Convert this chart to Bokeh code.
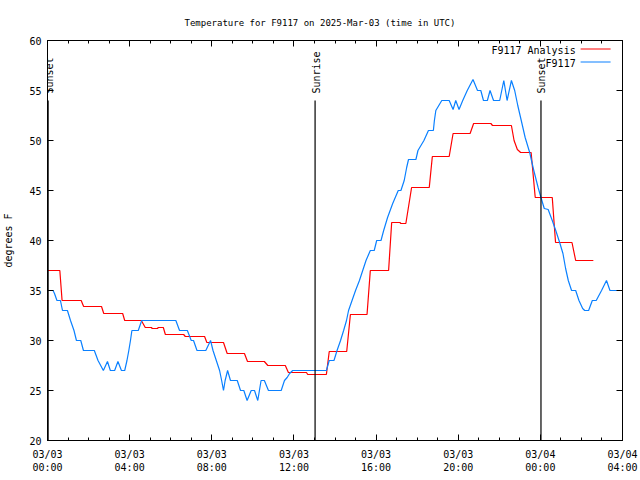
import math
from bokeh.plotting import figure
from bokeh.models import FixedTicker, LinearAxis, Range1d, Label, LabelSet, ColumnDataSource
from bokeh.core.properties import value
from bokeh.embed import file_html
from bokeh.resources import INLINE

TITLE = "Temperature for F9117 on 2025-Mar-03 (time in UTC)"
FONT = "DejaVu Sans Mono"

# x tick positions (hours since 2025-03-03 00:00 UTC) and labels
tick_hours = [0, 4, 8, 12, 16, 20, 24, 28]
tick_labels = ["03/03\n00:00", "03/03\n04:00", "03/03\n08:00", "03/03\n12:00",
               "03/03\n16:00", "03/03\n20:00", "03/04\n00:00", "03/04\n04:00"]
y_ticks = [20, 25, 30, 35, 40, 45, 50, 55, 60]

# F9117 Analysis (red)
red_hours = [0.0, 0.60, 0.71, 1.64, 1.76, 2.63, 2.74, 3.66, 3.76, 4.57, 4.76, 5.06, 5.10, 5.35,
             5.40, 5.64, 5.74, 6.63, 6.71, 7.65, 7.76, 8.57, 8.75, 9.59, 9.74, 10.56, 10.73,
             11.58, 11.73, 12.61, 12.67, 13.58, 13.72, 14.57, 14.75, 15.56, 15.72, 16.61,
             16.76, 17.16, 17.21, 17.45, 17.73, 18.59, 18.74, 19.56, 19.75, 20.58, 20.75,
             21.59, 21.67, 22.59, 22.72, 22.88, 23.04, 23.55, 23.75, 24.58, 24.66, 24.74,
             25.54, 25.72, 26.58]
red_temps = [37.0, 37.0, 34.0, 34.0, 33.4, 33.4, 32.7, 32.7, 32.0, 32.0, 31.3, 31.3, 31.2, 31.2,
             31.3, 31.3, 30.6, 30.6, 30.4, 30.4, 29.8, 29.8, 28.7, 28.7, 27.9, 27.9, 27.5,
             27.5, 26.8, 26.8, 26.6, 26.6, 28.9, 28.9, 32.6, 32.6, 37.0, 37.0,
             41.8, 41.8, 41.7, 41.7, 45.3, 45.3, 48.4, 48.4, 50.7, 50.7, 51.7,
             51.7, 51.5, 51.5, 50.0, 49.1, 48.8, 48.8, 44.3, 44.3, 42.0, 39.8,
             39.8, 38.0, 38.0]

# F9117 observations (blue)
blue_hours = [0.0, 0.27, 0.34, 0.46, 0.63, 0.73, 0.97, 1.12, 1.29, 1.41, 1.62, 1.75, 2.28, 2.46,
              2.72, 2.92, 3.06, 3.27, 3.43, 3.60, 3.76, 3.87, 3.96, 4.04, 4.11, 4.42, 4.52,
              4.59, 6.25, 6.43, 6.81, 7.00, 7.11, 7.28, 7.71, 7.94, 8.06, 8.22, 8.38, 8.48,
              8.57, 8.65, 8.77, 8.91, 9.24, 9.40, 9.56, 9.72, 9.92, 10.08, 10.24, 10.40,
              10.56, 10.76, 11.38, 11.54, 11.67, 11.79, 11.94, 13.58, 13.72, 13.95, 14.10,
              14.27, 14.42, 14.56, 14.66, 14.83, 15.00, 15.19, 15.35, 15.51, 15.72, 15.91,
              16.03, 16.24, 16.37, 16.56, 16.81, 17.08, 17.21, 17.37, 17.49, 17.58, 17.94,
              18.04, 18.33, 18.55, 18.79, 18.84, 18.91, 19.20, 19.56, 19.75, 19.88, 20.04,
              20.22, 20.44, 20.72, 20.94, 21.10, 21.23, 21.42, 21.55, 21.72, 22.02, 22.22,
              22.38, 22.59, 22.75, 22.90, 23.07, 23.26, 23.48, 23.68, 23.89, 24.03, 24.19,
              24.38, 24.58, 24.75, 24.94, 25.10, 25.23, 25.36, 25.52, 25.72, 25.88, 26.06,
              26.16, 26.35, 26.53, 26.72, 26.98, 27.22, 27.39, 28.0]
blue_temps = [35.0, 35.0, 34.7, 34.0, 34.0, 33.0, 33.0, 32.0, 31.0, 30.0, 30.0, 29.0, 29.0, 28.0,
              27.0, 27.9, 27.0, 27.0, 27.9, 27.0, 27.0, 28.0, 29.0, 30.0, 31.0, 31.0, 31.6,
              32.0, 32.0, 31.0, 31.0, 30.0, 30.0, 29.0, 29.0, 30.0, 29.0, 28.0, 27.0, 26.0,
              25.0, 26.0, 27.0, 26.0, 26.0, 25.0, 25.0, 24.0, 25.0, 25.0, 24.0, 26.0,
              26.0, 25.0, 25.0, 26.0, 26.3, 26.7, 27.0, 27.0, 28.0, 28.0, 29.0,
              30.0, 31.0, 32.0, 33.0, 34.0, 35.0, 36.0, 37.0, 38.0, 39.0, 39.0,
              40.0, 40.0, 41.0, 42.3, 43.7, 45.0, 45.0, 46.0, 47.3, 48.1, 48.1,
              49.0, 50.0, 51.0, 51.0, 52.0, 53.0, 54.0, 54.0, 53.1, 54.0, 53.1,
              54.0, 55.0, 56.1, 55.0, 55.0, 54.0, 54.0, 55.0, 54.0, 54.0, 56.0,
              54.0, 56.0, 55.0, 53.5, 52.0, 50.3, 48.8, 47.0, 45.3, 44.3, 43.2,
              43.1, 42.0, 41.0, 39.8, 38.7, 37.2, 36.0, 35.0, 35.0, 34.0, 33.2,
              33.0, 33.0, 34.0, 34.0, 35.0, 36.0, 35.0, 35.0]

# Sun events (hours)
event_hours = [0.03, 13.03, 24.03]
event_names = ["Sunset", "Sunrise", "Sunset"]

X_MIN, X_MAX = 0, 28
Y_MIN, Y_MAX = 20, 60
EVENT_TOP = 54.0

RED = "#ff0000"
BLUE = "#0a80ff"

p = figure(width=640, height=480, x_range=Range1d(X_MIN, X_MAX), y_range=Range1d(Y_MIN, Y_MAX),
           output_backend="svg", toolbar_location=None, title=TITLE,
           min_border_left=46, min_border_right=18, min_border_top=40, min_border_bottom=40)
p.xgrid.visible = False
p.ygrid.visible = False
p.outline_line_color = "black"
p.outline_line_alpha = 1.0
p.outline_line_width = 1
p.background_fill_color = "white"
p.border_fill_color = "white"

p.title.text_font = FONT
p.title.text_font_size = "9px"
p.title.text_font_style = "normal"
p.title.align = "left"
p.title.offset = 137
p.title.standoff = 26
p.title.text_color = "black"

x_minor = list(range(X_MIN, X_MAX + 1))


def style_axis(ax, show_labels):
    ax.axis_line_color = "black"
    ax.major_tick_in = 6
    ax.major_tick_out = 0
    ax.minor_tick_in = 3
    ax.minor_tick_out = 0
    ax.major_tick_line_color = "black"
    ax.minor_tick_line_color = "black"
    ax.major_label_text_font = FONT
    ax.major_label_text_font_size = "10px" if show_labels else "0px"
    ax.major_label_text_color = "black"


xt = FixedTicker(ticks=tick_hours, minor_ticks=x_minor)
yt = FixedTicker(ticks=y_ticks, minor_ticks=[])

xa = p.xaxis[0]
xa.ticker = xt
xa.major_label_overrides = {h: lab for h, lab in zip(tick_hours, tick_labels)}
style_axis(xa, True)
xa.major_label_standoff = 8

ya = p.yaxis[0]
ya.ticker = yt
style_axis(ya, True)
ya.major_label_standoff = 6
ya.axis_label = "degrees F"
ya.axis_label_text_font = FONT
ya.axis_label_text_font_size = "10px"
ya.axis_label_text_font_style = "normal"
ya.axis_label_text_color = "black"
ya.axis_label_standoff = 12

top = LinearAxis(ticker=FixedTicker(ticks=tick_hours, minor_ticks=x_minor),
                 major_label_overrides={h: "" for h in tick_hours})
style_axis(top, False)
top.major_label_standoff = 0
p.add_layout(top, "above")

right = LinearAxis(ticker=FixedTicker(ticks=y_ticks, minor_ticks=[]),
                   major_label_overrides={t: "" for t in y_ticks})
style_axis(right, False)
right.major_label_standoff = 0
p.add_layout(right, "right")

# series
p.line(red_hours, red_temps, line_color=RED, line_width=1.2)
p.line(blue_hours, blue_temps, line_color=BLUE, line_width=1.2)

# sunrise / sunset markers
ev = ColumnDataSource(dict(x=event_hours, name=event_names))
p.segment(x0="x", y0=Y_MIN, x1="x", y1=EVENT_TOP, source=ev, line_color="black", line_width=1.2)
p.add_layout(LabelSet(x="x", y=EVENT_TOP + 0.7, text="name", source=ev, angle=math.pi / 2,
                      text_align="left", text_baseline="middle", text_font=value(FONT),
                      text_font_size=value("10px"), text_color="black", x_offset=1))

# legend (gnuplot style: label then sample line)
LEG_X1 = X_MAX - 0.58
LEG_X0 = LEG_X1 - 1.46
LEG_TX = LEG_X0 - 0.24
leg_rows = [(59.0, "F9117 Analysis", RED), (57.7, "F9117", BLUE)]
for ly, txt, col in leg_rows:
    p.add_layout(Label(x=LEG_TX, y=ly, text=txt, text_align="right", text_baseline="middle",
                       text_font=FONT, text_font_size="10px", text_color="black"))
    p.segment(x0=LEG_X0, y0=ly + 0.15, x1=LEG_X1, y1=ly + 0.15, line_color=col, line_width=1.2)

open("out.html", "w").write(file_html(p, INLINE))
